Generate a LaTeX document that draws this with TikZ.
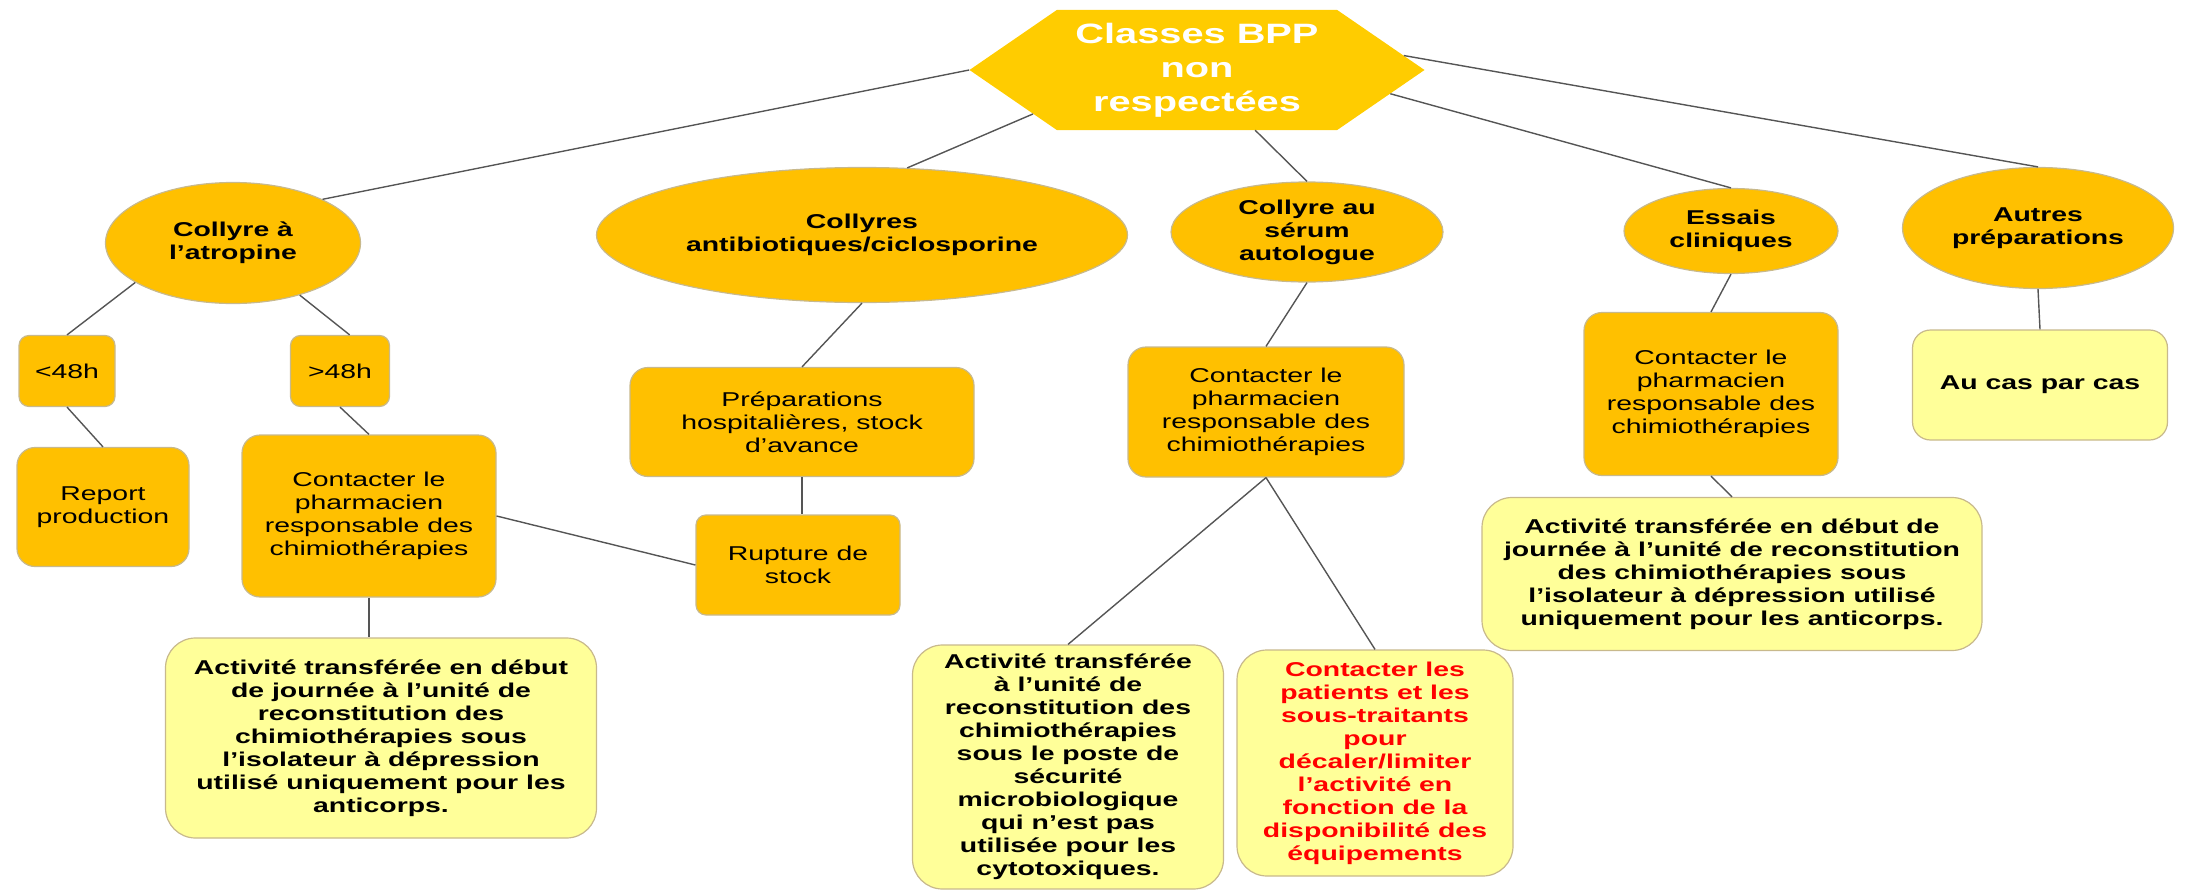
\documentclass[tikz,border=0pt]{standalone}
\usepackage{fontspec}
\setmainfont{Liberation Sans}[FakeStretch=1.42]
\usetikzlibrary{shapes.geometric,shapes.symbols}

\definecolor{orangeBPP}{RGB}{255,192,0}
\definecolor{jauneHex}{RGB}{255,204,0}
\definecolor{jaunePale}{RGB}{255,255,153}
\definecolor{bordBPP}{RGB}{200,185,140}
\definecolor{lienBPP}{RGB}{85,85,85}

\begin{document}
\begin{tikzpicture}[x=1pt,y=1pt,yscale=-1,xscale=1,
  texte/.style={align=center,inner sep=0pt,font=\fontsize{20}{23}\selectfont},
  classe/.style={texte,ellipse,fill=orangeBPP,draw=bordBPP,line width=1.2,font=\fontsize{20}{23}\selectfont\bfseries},
  cadre/.style={texte,rectangle,rounded corners=18pt,fill=orangeBPP,draw=bordBPP,line width=1.2},
  petit/.style={cadre,rounded corners=10pt},
  note/.style={texte,rectangle,rounded corners=30pt,fill=jaunePale,draw=bordBPP,line width=1.2,font=\fontsize{20}{23}\selectfont\bfseries},
  lien/.style={draw=lienBPP,line width=1.4}]
\useasboundingbox (0,0) rectangle (2187,891);

% titre
\node [signal,signal to=west and east,signal pointer angle=69,fill=jauneHex,inner sep=0pt,
  minimum width=455,minimum height=120,align=center,text=white,
  font=\fontsize{28}{34}\selectfont\bfseries] (hex) at (1197,70) {Classes BPP\\non\\respectées};

% premier niveau
\node [classe,minimum width=255,minimum height=121] (atro) at (233,243) {Collyre à\\l'atropine};
\node [classe,minimum width=531,minimum height=135] (antibio) at (862,235) {Collyres\\antibiotiques/ciclosporine};
\node [classe,minimum width=272,minimum height=100] (serum) at (1307,232) {Collyre au\\sérum\\autologue};
\node [classe,minimum width=214,minimum height=85] (essais) at (1731,231) {Essais\\cliniques};
\node [classe,minimum width=271,minimum height=121] (autres) at (2038,228) {Autres\\préparations};

% collyre a l'atropine
\node [petit,minimum width=96,minimum height=71] (lt48) at (67,371) {<48h};
\node [petit,minimum width=99,minimum height=71] (gt48) at (340,371) {>48h};
\node [cadre,minimum width=172,minimum height=119] (report) at (103,507) {Report\\production};
\node [cadre,minimum width=254,minimum height=162] (pharmA) at (369,516) {Contacter le\\pharmacien\\responsable des\\chimiothérapies};
\node [note,minimum width=431,minimum height=200] (actA) at (381,738) {Activité transférée en début\\de journée à l'unité de\\reconstitution des\\chimiothérapies sous\\l'isolateur à dépression\\utilisé uniquement pour les\\anticorps.};

% collyres antibiotiques
\node [cadre,minimum width=344,minimum height=109] (prep) at (802,422) {Préparations\\hospitalières, stock\\d'avance};
\node [petit,minimum width=204,minimum height=100] (rupture) at (798,565) {Rupture de\\stock};

% collyre au serum
\node [cadre,minimum width=276,minimum height=130] (pharmB) at (1266,412) {Contacter le\\pharmacien\\responsable des\\chimiothérapies};
\node [note,minimum width=311,minimum height=244] (actB) at (1068,767) {Activité transférée\\à l'unité de\\reconstitution des\\chimiothérapies\\sous le poste de\\sécurité\\microbiologique\\qui n'est pas\\utilisée pour les\\cytotoxiques.};
\node [note,minimum width=276,minimum height=226,text=red] (contactP) at (1375,763) {Contacter les\\patients et les\\sous-traitants\\pour\\décaler/limiter\\l'activité en\\fonction de la\\disponibilité des\\équipements};

% essais cliniques
\node [cadre,minimum width=254,minimum height=163] (pharmC) at (1711,394) {Contacter le\\pharmacien\\responsable des\\chimiothérapies};
\node [note,minimum width=500,minimum height=153] (actC) at (1732,574) {Activité transférée en début de\\journée à l'unité de reconstitution\\des chimiothérapies sous\\l'isolateur à dépression utilisé\\uniquement pour les anticorps.};

% autres preparations
\node [note,rounded corners=18pt,minimum width=255,minimum height=110] (cas) at (2040,385) {Au cas par cas};

% liens
\draw [lien] (hex.west) -- (atro.26);
\draw [lien] (hex.195) -- (antibio.56);
\draw [lien] (hex.-46) -- (serum.north);
\draw [lien] (hex.-7) -- (essais.north);
\draw [lien] (hex.4) -- (autres.north);
\draw [lien] (atro.202) -- (lt48.north);
\draw [lien] (atro.-38) -- (gt48.75);
\draw [lien] (lt48.south) -- (report.north);
\draw [lien] (gt48.south) -- (pharmA.north);
\draw [lien] (pharmA.east) -- (rupture.west);
\draw [lien] (pharmA.south) -- (pharmA.south |- actA.north);
\draw [lien] (antibio.south) -- (prep.north);
\draw [lien] (prep.south) -- (prep.south |- rupture.north);
\draw [lien] (serum.south) -- (pharmB.north);
\draw [lien] (pharmB.south) -- (actB.north);
\draw [lien] (pharmB.south) -- (contactP.north);
\draw [lien] (essais.south) -- (pharmC.north);
\draw [lien] (pharmC.south) -- (actC.north);
\draw [lien] (autres.south) -- (cas.north);

\end{tikzpicture}
\end{document}
